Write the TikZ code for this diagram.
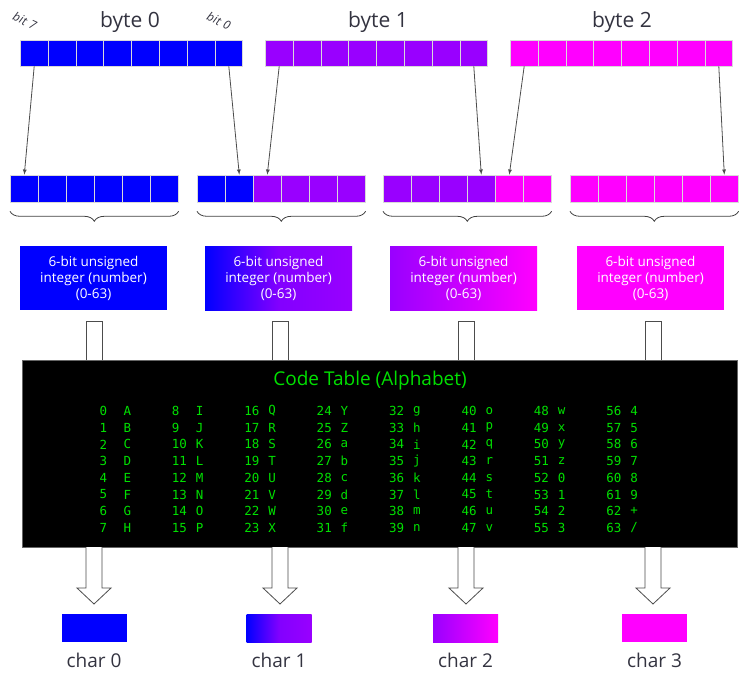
\documentclass[tikz,border=0pt]{standalone}
\usepackage{fontspec}
\setmainfont{Open Sans}
\setmonofont{DejaVu Sans Mono}
\usetikzlibrary{decorations.pathreplacing}
\definecolor{cb}{HTML}{0000FF}
\definecolor{cp}{HTML}{9900FF}
\definecolor{cm}{HTML}{FF00FF}
\definecolor{txt}{HTML}{333340}
\definecolor{tg}{HTML}{00E000}
\begin{document}
\begin{tikzpicture}[x=1pt,y=-1pt,
 cell/.style={draw=white!85!black,line width=0.6pt,minimum width=27.8pt,minimum height=26pt,inner sep=0,anchor=west},
 mcell/.style={draw=white!85!black,line width=0.6pt,minimum width=28pt,minimum height=27pt,inner sep=0,anchor=west},
 lab/.style={text=txt,font=\fontsize{21}{24}\selectfont},
 bitlab/.style={text=txt,font=\itshape\fontsize{12}{14}\selectfont,rotate=-25},
 numbox/.style={minimum width=147pt,minimum height=64pt,inner sep=0,text=white,align=center,font=\fontsize{13.5}{16}\selectfont},
 conn/.style={-latex,draw=black!70,line width=0.8pt},
 brc/.style={decorate,decoration={brace,mirror,amplitude=10pt},draw=black!75,line width=0.8pt},
 pipe/.style={draw=black!70,fill=white,line width=0.8pt,minimum width=16pt,minimum height=40pt,inner sep=0},
 hol/.style={draw=black!70,fill=white,line width=0.8pt,line join=miter},
 cbox/.style={minimum width=65pt,minimum height=28pt,inner sep=0},
 clab/.style={text=txt,font=\fontsize{19}{22}\selectfont},
 mono/.style={text=tg,font=\ttfamily\fontsize{12.5}{14}\selectfont,anchor=west}]
\useasboundingbox (0,0) rectangle (745,677);
% top bytes
\foreach \i in {0,...,7}{
 \node[cell,fill=cb] (a\i) at (20+27.8*\i,53) {};
 \node[cell,fill=cp] (b\i) at (265+27.8*\i,53) {};
 \node[cell,fill=cm] (c\i) at (510+27.8*\i,53) {};
}
\node[lab] (l0) at (130,22) {byte 0};
\node[lab] (l1) at (378,22) {byte 1};
\node[lab] (l2) at (622,22) {byte 2};
\node[bitlab] (bit7) at (25,21) {bit\,\,7};
\node[bitlab] (bit0) at (219,21) {bit\,\,0};
% middle groups
\foreach \i in {0,...,5}{
 \node[mcell,fill=cb] (g0\i) at (10+28*\i,188.5) {};
 \node[mcell,fill=cm] (g3\i) at (570+28*\i,188.5) {};
}
\foreach \i/\c in {0/cb,1/cb,2/cp,3/cp,4/cp,5/cp}{
 \node[mcell,fill=\c] (g1\i) at (197+28*\i,188.5) {};}
\foreach \i/\c in {0/cp,1/cp,2/cp,3/cp,4/cm,5/cm}{
 \node[mcell,fill=\c] (g2\i) at (383+28*\i,188.5) {};}
% arrows
\draw[conn] (a0.south) -- (g00.north);
\draw[conn] (a7.south) -- (g11.north);
\draw[conn] (b0.south) -- (g12.north);
\draw[conn] (b7.south) -- (g23.north);
\draw[conn] (c0.south) -- (g24.north);
\draw[conn] (c7.south) -- (g35.north);
% braces
\foreach \g in {0,1,2,3}{
 \draw[brc] ([yshift=-9pt]g\g0.south west) -- ([yshift=-9pt]g\g5.south east);}
% number boxes
\node[numbox,fill=cb] (n0) at (93.5,278) {6-bit unsigned\\integer (number)\\(0-63)};
\node[numbox,left color=cb,right color=cp,middle color=cp!85!cb] (n1) at (278.5,278) {6-bit unsigned\\integer (number)\\(0-63)};
\node[numbox,left color=cp,right color=cm] (n2) at (463.5,278) {6-bit unsigned\\integer (number)\\(0-63)};
\node[numbox,fill=cm] (n3) at (650.5,278) {6-bit unsigned\\integer (number)\\(0-63)};
% pipes
\foreach \i/\x in {0/94,1/280,2/466,3/653}{
 \node[pipe] (p\i) at (\x,341) {};}
% table
\node[fill=black,draw=black!60,minimum width=715pt,minimum height=187pt,inner sep=0] (tab) at (379.5,453.5) {};
\node[text=tg,font=\fontsize{19}{22}\selectfont] (title) at (370,381) {Code Table (Alphabet)};
\def\chars{{"A","B","C","D","E","F","G","H","I","J","K","L","M","N","O","P","Q","R","S","T","U","V","W","X","Y","Z","a","b","c","d","e","f","g","h","i","j","k","l","m","n","o","p","q","r","s","t","u","v","w","x","y","z","0","1","2","3","4","5","6","7","8","9","+","/"}}
\foreach \c in {0,...,7}{
 \foreach \r in {0,...,7}{
  \pgfmathtruncatemacro{\n}{8*\c+\r}
  \pgfmathsetmacro{\ch}{\chars[\n]}
  \node[mono] (t\n) at (96+72.4*\c,411+16.7*\r) {\n};
  \node[mono] (u\n) at (120+72.4*\c,411+16.7*\r) {\ch};
 }}
% hollow arrows
\foreach \i/\x in {0/94,1/280,2/466,3/653}{
 \coordinate (h\i) at (\x,547);
 \draw[hol] (h\i) ++(-8,0) -- ++(0,41) -- ++(-9,0) -- ++(17,16) -- ++(17,-16) -- ++(-9,0) -- ++(0,-41);}
% chars
\node[cbox,fill=cb] (ch0) at (94,628) {};
\node[cbox,left color=cb,right color=cp,middle color=cp!85!cb] (ch1) at (279,628) {};
\node[cbox,left color=cp,right color=cm] (ch2) at (465.5,628) {};
\node[cbox,fill=cm] (ch3) at (654.5,628) {};
\node[clab] (cl0) at (94,660) {char 0};
\node[clab] (cl1) at (279,660) {char 1};
\node[clab] (cl2) at (465.5,660) {char 2};
\node[clab] (cl3) at (654.5,660) {char 3};
\end{tikzpicture}
\end{document}
